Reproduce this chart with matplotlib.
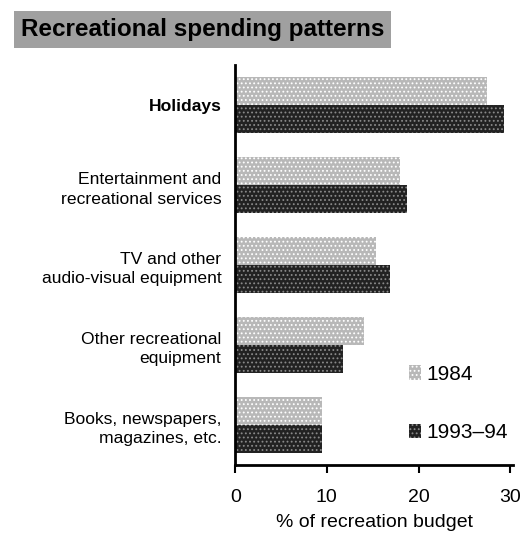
import matplotlib
matplotlib.use("Agg")
import matplotlib.pyplot as plt
import numpy as np

plt.rcParams['font.family'] = ['Liberation Sans', 'DejaVu Sans']
plt.rcParams['hatch.linewidth'] = 0.8

categories = ["Holidays", "Entertainment and\nrecreational services",
              "TV and other\naudio-visual equipment", "Other recreational\nequipment",
              "Books, newspapers,\nmagazines, etc."]
values_1984 = [27.5, 18.0, 15.4, 14.0, 9.5]
values_1993 = [29.3, 18.7, 16.9, 11.8, 9.5]
series_labels = ["1984", "1993\u201394"]
xticks = [0, 10, 20, 30]

fig = plt.figure(figsize=(5.25, 5.39), dpi=100)
ax = fig.add_axes([0.448, 0.137, 0.529, 0.742])

y = np.arange(len(categories))
h = 0.35
ax.barh(y - h / 2, values_1984, height=h, color="#b8b8b8", edgecolor="#ffffff",
        hatch="....", linewidth=0, label=series_labels[0])
ax.barh(y + h / 2, values_1993, height=h, color="#222222", edgecolor="#8a8a8a",
        hatch="....", linewidth=0, label=series_labels[1])

ax.set_ylim(4.5, -0.5)
ax.set_xlim(0, 30.3)
ax.set_yticks(y)
ax.set_yticklabels(categories, fontsize=12.6, linespacing=1.4)
ax.get_yticklabels()[0].set_fontweight("bold")
ax.tick_params(axis="y", length=0, pad=10)
ax.set_xticks(xticks)
ax.tick_params(axis="x", direction="out", length=6, width=1.5, labelsize=14, pad=11)
ax.set_xlabel("% of recreation budget", fontsize=14, labelpad=6)

for s in ["top", "right"]:
    ax.spines[s].set_visible(False)
ax.spines["left"].set_linewidth(2)
ax.spines["bottom"].set_linewidth(2)

ax.legend(loc="lower right", bbox_to_anchor=(1.05, 0.01), frameon=False,
          fontsize=15, handlelength=0.6, handleheight=0.7, handletextpad=0.25,
          labelspacing=1.9)

fig.text(0.04, 0.945, "Recreational spending patterns", fontsize=17.5, fontweight="bold",
         va="center", ha="left",
         bbox=dict(facecolor="#a0a0a0", edgecolor="none", hatch="....", pad=5))

fig.savefig("out.png", dpi=100)
